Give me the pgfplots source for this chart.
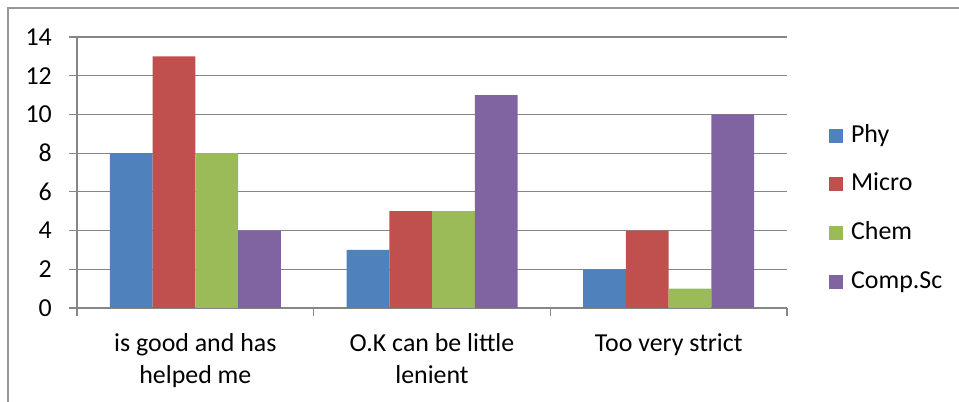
\documentclass[border=0pt]{standalone}
\usepackage{fontspec}
\setmainfont{Carlito}
\usepackage{pgfplots}
\pgfplotsset{compat=1.18}
\definecolor{gridgray}{RGB}{134,134,134}
\definecolor{framegray}{RGB}{150,150,150}
\definecolor{cblue}{RGB}{79,129,189}
\definecolor{cred}{RGB}{192,80,77}
\definecolor{cgreen}{RGB}{155,187,89}
\definecolor{cpurple}{RGB}{128,100,162}
\newcommand{\bigf}{\fontsize{26}{32}\selectfont}
\begin{document}
\begin{tikzpicture}
\path[use as bounding box] (0bp,0bp) rectangle (959bp,402bp);
\draw[framegray, line width=1.5bp] (8bp,-2bp) -- (8bp,394bp) -- (961bp,394bp);
\begin{axis}[
  at={(77bp,94bp)}, anchor=south west,
  scale only axis, width=710bp, height=271bp,
  xmin=-0.5, xmax=2.5, ymin=0, ymax=14,
  ybar=0pt, bar width=42.75bp,
  axis x line*=bottom, axis y line*=left,
  axis line style={draw=gridgray, line width=1.2bp, -},
  ytick={0,2,...,14},
  xtick={-0.5,0.5,1.5,2.5},
  x tick label as interval,
  xticklabels={{is good and has\\helped me},{O.K can be little\\lenient},{Too very strict}},
  ymajorgrids, grid style={gridgray, line width=1.2bp},
  tick align=outside, major tick length=8bp,
  tick style={gridgray, line width=1.2bp},
  /pgf/number format/assume math mode=true,
  yticklabel style={font=\bigf, inner sep=0pt, anchor=east, xshift=-17bp},
  xticklabel style={font=\bigf, align=center, inner sep=0pt, anchor=north, yshift=-17bp},
  legend style={at={(1.059,0.366)}, anchor=west, draw=none, fill=none,
    font=\bigf, row sep=25.7bp, inner sep=0pt,
    nodes={inner sep=0pt, text height=18bp, text depth=5bp},
    /tikz/every odd column/.append style={column sep=8bp}},
  legend cell align=left,
  legend image code/.code={\fill[#1] (0bp,-7bp) rectangle (14bp,7bp);},
]
\addplot[fill=cblue, draw=none] coordinates {(0,8) (1,3) (2,2)};
\addplot[fill=cred, draw=none] coordinates {(0,13) (1,5) (2,4)};
\addplot[fill=cgreen, draw=none] coordinates {(0,8) (1,5) (2,1)};
\addplot[fill=cpurple, draw=none] coordinates {(0,4) (1,11) (2,10)};
\legend{Phy,Micro,Chem,Comp.Sc}
\end{axis}
\end{tikzpicture}
\end{document}
